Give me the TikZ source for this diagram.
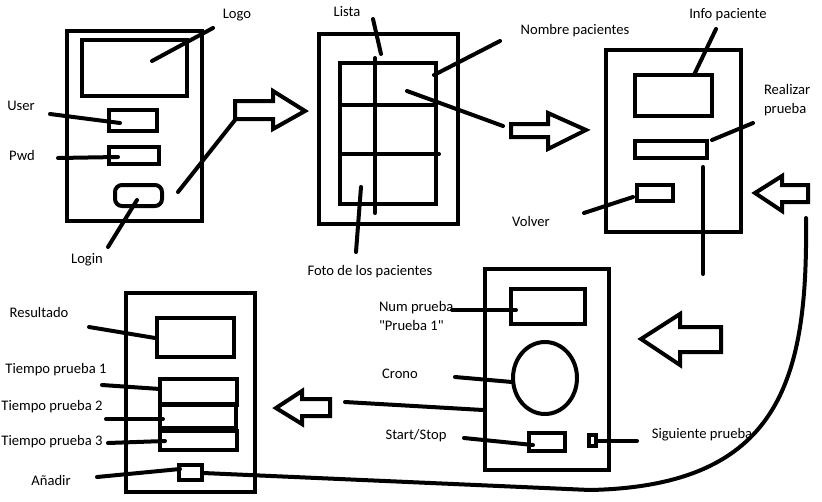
\documentclass[tikz,border=0pt]{standalone}
\usepackage{fontspec}
\newfontfamily\carlito{Carlito}

\begin{document}
\begin{tikzpicture}[x=1pt, y=-1pt, line width=4pt, line cap=round, line join=miter,
		lbl/.style = {font=\carlito\fontsize{14.6}{18.5}\selectfont, inner sep=0pt},
		frame/.style = {line width=4.5pt, line cap=rect},
		wbox/.style = {line cap=rect}]
	\useasboundingbox (0,0) rectangle (822,501);

	% pantalla login
	\draw[frame] (67,31) rectangle (202,221);
	\draw[wbox] (82,40) rectangle (187,96);
	\draw[wbox] (109,110) rectangle (157,131);
	\draw[wbox] (109,147) rectangle (159,164);
	\draw[rounded corners=7pt] (115,185) rectangle (162,206);
	\node[lbl] (logo) at (237,15) {Logo};
	\node[lbl] (user) at (21,106) {User};
	\node[lbl] (pwd) at (22,155) {Pwd};
	\node[lbl] (login) at (87,260) {Login};

	% pantalla lista
	\draw[frame] (319,34) rectangle (458,224);
	\draw[wbox] (340,63) rectangle (436,204);
	\draw (340,105) -- (436,105);
	\draw (340,154) -- (439,154);
	\draw (375,58) -- (375,213);
	\node[lbl] (lista) at (347,12) {Lista};
	\node[lbl] (nombre) at (575,31) {Nombre pacientes};
	\node[lbl] (foto) at (370,272) {Foto de los pacientes};

	% pantalla paciente
	\draw[frame] (606,50) rectangle (741,232);
	\draw[wbox] (635,75) rectangle (712,116);
	\draw[wbox] (635,141) rectangle (707,158);
	\draw[wbox] (637,185) rectangle (673,201);
	\node[lbl] (info) at (728,15) {Info paciente};
	\node[lbl, anchor=west, align=left] (realizar) at (762,100) {Realizar\\prueba};
	\node[lbl] (volver) at (531,221) {Volver};

	% pantalla prueba
	\draw[frame] (485,269) rectangle (609,470);
	\draw[wbox] (511,289) rectangle (585,324);
	\draw (545,378) ellipse [x radius=32, y radius=36];
	\draw[wbox] (529,433) rectangle (565,451);
	\draw[wbox] (589,435) rectangle (596,446);
	\node[lbl, anchor=west, align=left] (num) at (377,316) {Num prueba\\"Prueba 1"};
	\node[lbl] (crono) at (400,374) {Crono};
	\node[lbl] (start) at (416,436) {Start/Stop};
	\node[lbl] (sig) at (702,435) {Siguiente prueba};

	% pantalla resultado
	\draw[frame] (126,293) rectangle (255,492);
	\draw[wbox] (157,318) rectangle (234,357);
	\draw[wbox] (160,379) rectangle (237,405);
	\draw[wbox] (160,404) rectangle (236,428);
	\draw[wbox] (160,431) rectangle (237,450);
	\draw[wbox] (179,465) rectangle (202,480);
	\node[lbl] (resultado) at (39,312) {Resultado};
	\node[lbl] (t1) at (56,370) {Tiempo prueba 1};
	\node[lbl] (t2) at (52,407) {Tiempo prueba 2};
	\node[lbl] (t3) at (52,442) {Tiempo prueba 3};
	\node[lbl] (anadir) at (51,480) {Añadir};

	% flechas
	\draw[line join=miter] (235,101) -- (273,101) -- (273,91) -- (305,111) -- (273,129) -- (273,119) -- (235,119) -- cycle;
	\draw[line join=miter] (511,124) -- (548,124) -- (548,113) -- (586,130) -- (548,149) -- (548,137) -- (511,137) -- cycle;
	\draw[line join=miter] (808,185) -- (782,185) -- (782,176) -- (755,193) -- (782,211) -- (782,202) -- (808,202) -- cycle;
	\draw[line join=miter] (721,327) -- (680,327) -- (680,314) -- (641,339) -- (680,365) -- (680,352) -- (721,352) -- cycle;
	\draw[line join=miter] (330,399) -- (302,399) -- (302,391) -- (276,408) -- (302,424) -- (302,416) -- (330,416) -- cycle;

	% puntos de las lineas
	\coordinate (a1) at (213,28);  \coordinate (b1) at (152,61);
	\coordinate (a2) at (50,114);  \coordinate (b2) at (120,123);
	\coordinate (a3) at (58,158);  \coordinate (b3) at (118,157);
	\coordinate (a4) at (108,247); \coordinate (b4) at (137,200);
	\coordinate (a5) at (178,192); \coordinate (b5) at (235,120);
	\coordinate (a6) at (373,19);  \coordinate (b6) at (381,54);
	\coordinate (a7) at (500,41);  \coordinate (b7) at (434,75);
	\coordinate (a8) at (407,91);  \coordinate (b8) at (503,126);
	\coordinate (a9) at (356,252); \coordinate (b9) at (361,187);
	\coordinate (a10) at (716,29); \coordinate (b10) at (694,75);
	\coordinate (a11) at (753,123); \coordinate (b11) at (712,140);
	\coordinate (a12) at (584,213); \coordinate (b12) at (633,197);
	\coordinate (a13) at (703,167); \coordinate (b13) at (703,274);
	\coordinate (a14) at (452,310); \coordinate (b14) at (516,310);
	\coordinate (a15) at (455,377); \coordinate (b15) at (512,382);
	\coordinate (a16) at (464,438); \coordinate (b16) at (533,445);
	\coordinate (a17) at (345,402); \coordinate (b17) at (483,410);
	\coordinate (a18) at (637,441); \coordinate (b18) at (598,441);
	\coordinate (a19) at (89,327);  \coordinate (b19) at (155,338);
	\coordinate (a20) at (102,385); \coordinate (b20) at (160,389);
	\coordinate (a21) at (106,419); \coordinate (b21) at (163,419);
	\coordinate (a22) at (108,443); \coordinate (b22) at (165,441);
	\coordinate (a23) at (97,477);  \coordinate (b23) at (180,469);

	\foreach \i in {1,...,23}
		\draw (a\i) -- (b\i);

	% vuelta desde Añadir
	\coordinate (c1) at (203,473);
	\coordinate (c2) at (590,490);
	\coordinate (c3) at (806,218);
	\draw (c1) -- (c2) .. controls (780,486) and (808,380) .. (c3);
\end{tikzpicture}
\end{document}
